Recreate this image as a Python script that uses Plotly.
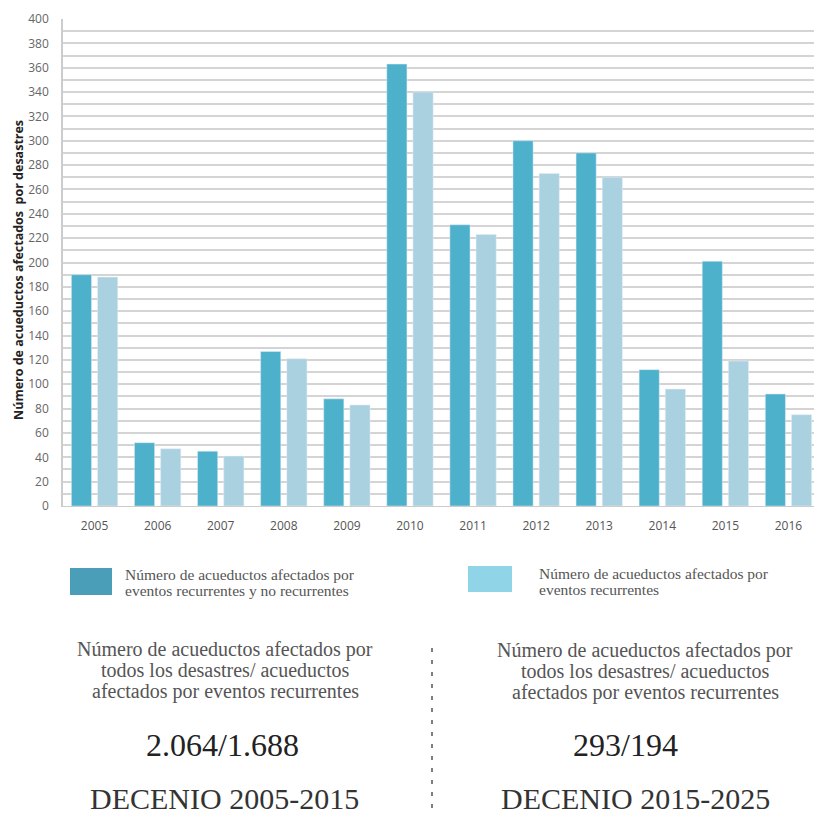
import plotly.graph_objects as go

years = ["2005", "2006", "2007", "2008", "2009", "2010", "2011", "2012", "2013", "2014", "2015", "2016"]
todos = [190, 52, 45, 127, 88, 363, 231, 300, 290, 112, 201, 92]
recurrentes = [188, 47, 41, 121, 83, 340, 223, 273, 270, 96, 119, 75]

serie_todos = "Número de acueductos afectados por eventos recurrentes y no recurrentes"
serie_rec = "Número de acueductos afectados por eventos recurrentes"
y_title = "Número de acueductos afectados  por desastres"
bloque_izq = ["Número de acueductos afectados por", "todos los desastres/ acueductos", "afectados por eventos recurrentes"]
bloque_der = bloque_izq
cifra_izq = "2.064/1.688"
cifra_der = "293/194"
decenio_izq = "DECENIO 2005-2015"
decenio_der = "DECENIO 2015-2025"

# page offset (body margin) compensation
O = 8
W, H = 814, 806
L, R, T = 63 - O, 2, 19 - O
B = H - (506 - O)
PW, PH = W - L - R, H - T - B


def px(x):
    return (x - O - L) / PW


def py(y):
    return (H - B - (y - O)) / PH


fig = go.Figure()
fig.add_trace(go.Bar(x=years, y=todos, name=serie_todos, marker_color="#4db1cb", showlegend=False))
fig.add_trace(go.Bar(x=years, y=recurrentes, name=serie_rec, marker_color="#aad1e0", showlegend=False))

serif = "Liberation Serif"
shapes = [
    dict(type="rect", xref="paper", yref="paper", x0=px(70), x1=px(112), y0=py(595), y1=py(568),
         fillcolor="#4a9eb7", line_width=0),
    dict(type="rect", xref="paper", yref="paper", x0=px(468), x1=px(512), y0=py(592), y1=py(566),
         fillcolor="#8fd4e7", line_width=0),
    dict(type="line", xref="paper", yref="paper", x0=px(432), x1=px(432), y0=py(648), y1=py(814),
         line=dict(color="#555555", width=1.5, dash="4px,8px")),
]

ann = []
def text(x, y, s, size, color, anchor="center", family=serif):
    ann.append(dict(xref="paper", yref="paper", x=px(x), y=py(y), text=s, showarrow=False,
                    xanchor=anchor, yanchor="middle", font=dict(family=family, size=size, color=color)))

text(123, 574, "Número de acueductos afectados por", 15.5, "#555555", "left")
text(123, 590, "eventos recurrentes y no recurrentes", 15.5, "#555555", "left")
text(537, 573, "Número de acueductos afectados por", 15.5, "#555555", "left")
text(537, 589, "eventos recurrentes", 15.5, "#555555", "left")

for i, yy in enumerate([649, 670, 691]):
    text(225, yy, bloque_izq[i], 20, "#555555")
    text(645, yy + 1, bloque_der[i], 20, "#555555")
text(222, 745, cifra_izq, 32, "#222222")
text(625, 745, cifra_der, 32, "#222222")
text(224, 798, decenio_izq, 30, "#333333")
text(635, 798, decenio_der, 30, "#333333")

ann.append(dict(xref="paper", yref="paper", x=px(18), y=py(270), text="<b>" + y_title + "</b>",
                showarrow=False, textangle=-90, xanchor="center", yanchor="middle",
                font=dict(family="Open Sans", size=12.5, color="#222222")))

fig.update_layout(
    width=W, height=H,
    margin=dict(l=L, r=R, t=T, b=B, pad=0),
    paper_bgcolor="white", plot_bgcolor="white",
    barmode="group", bargap=0.17, bargroupgap=0.23,
    shapes=shapes, annotations=ann,
    xaxis=dict(type="category", showgrid=False, showline=True, linecolor="#cccccc", linewidth=1,
               ticks="", tickfont=dict(family="Open Sans", size=12, color="#555555"),
               ticklabelstandoff=9),
    yaxis=dict(range=[0, 400], dtick=20, showgrid=True, gridcolor="#d4d4d4", gridwidth=2,
               minor=dict(dtick=10, showgrid=True, gridcolor="#d4d4d4", gridwidth=2),
               showline=True, linecolor="#cccccc", linewidth=1.5, zeroline=False,
               ticks="", tickfont=dict(family="Open Sans", size=12, color="#666666"),
               ticklabelstandoff=10),
    showlegend=False,
)

fig.write_html("out.html")
